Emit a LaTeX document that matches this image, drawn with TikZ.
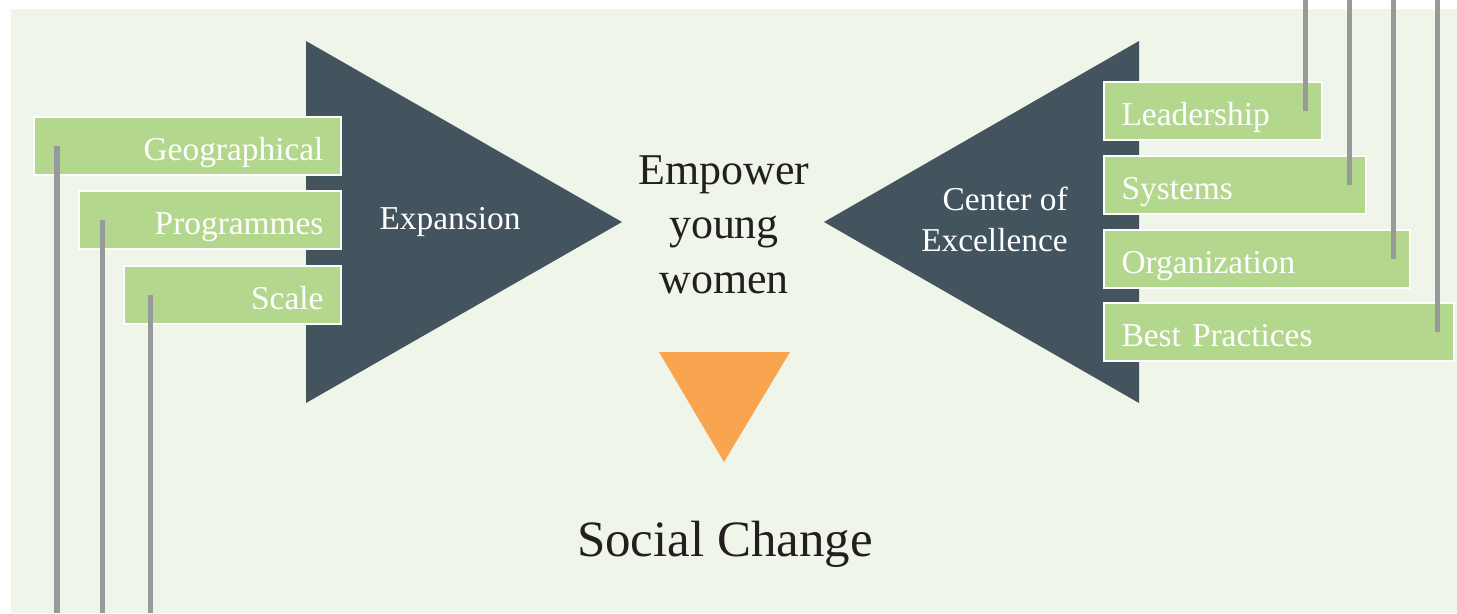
\documentclass[tikz,border=0pt]{standalone}
\usepackage{fontspec}
\setmainfont{Liberation Serif}
\usetikzlibrary{calc}

\definecolor{bgpale}{HTML}{EFF5E8}
\definecolor{slate}{HTML}{44545F}
\definecolor{leaf}{HTML}{B4D78E}
\definecolor{pin}{HTML}{98999B}
\definecolor{sunset}{HTML}{F9A54F}
\definecolor{ink}{HTML}{231F20}

\begin{document}
\begin{tikzpicture}[x=0.02cm, y=-0.02cm,
    box/.style={draw=white, line width=1.2pt, fill=leaf, text=white,
        minimum height=1.16cm, inner xsep=0.35cm, inner ysep=0pt,
        text height=0.56cm, text depth=0pt, font=\fontsize{19}{23}\selectfont},
    leftbox/.style={box, anchor=east, align=right, text width=#1},
    rightbox/.style={box, anchor=west, align=left, text width=#1},
    pinline/.style={draw=pin, line width=2.9pt},
    wedge/.style={fill=slate}]
    \useasboundingbox (0,0) rectangle (1457,613);

    % Background panel
    \fill[bgpale] (11,9) rectangle (1457,613);
    \coordinate (top) at (0,0);
    \coordinate (foot) at (0,613);

    % Wedges
    \fill[wedge] (306,41) -- (622,222) -- (306,403) -- cycle;
    \fill[wedge] (1139,41) -- (824,222) -- (1139,403) -- cycle;
    \fill[sunset] (659,352) -- (790,352) -- (724,462) -- cycle;

    % Left boxes
    \node[leftbox=5.44cm] (geo) at (342,146) {Geographical};
    \node[leftbox=4.54cm] (prog) at (342,220) {Programmes};
    \node[leftbox=3.64cm] (scale) at (342,295) {Scale};

    % Right boxes
    \node[rightbox=3.66cm] (lead) at (1103,111) {Leadership};
    \node[rightbox=4.54cm] (sys) at (1103,185) {Systems};
    \node[rightbox=5.42cm] (org) at (1103,259) {Organization};
    \node[rightbox=6.30cm] (best) at (1103,332) {Best Practices};

    % Pins
    \coordinate (geo-pin) at ($(geo.west)+(24,0)$);
    \coordinate (prog-pin) at ($(prog.west)+(25,0)$);
    \coordinate (scale-pin) at ($(scale.west)+(28,0)$);
    \foreach \n in {geo,prog,scale}
        \draw[pinline] (\n-pin) -- (\n-pin |- foot);
    \foreach \n in {lead,sys,org,best}{
        \coordinate (\n-pin) at ($(\n.east)+(-18,0)$);
        \draw[pinline] (\n-pin) -- (\n-pin |- top);
    }

    % Labels
    \node[anchor=base, text=white, font=\fontsize{19}{23}\selectfont] (expansion) at (450,229) {Expansion};
    \node[anchor=east, align=right, text=white, inner sep=0pt,
          font=\fontsize{19}{23.3}\selectfont] (excellence) at (1068,219) {Center of\\Excellence};
    \node[anchor=north, align=center, text=ink, inner sep=0pt,
          font=\fontsize{25}{31}\selectfont] (empower) at (724,155) {Empower\\young\\women};
    \node[anchor=base, text=ink, font=\fontsize{29}{35}\selectfont] (change) at (725,556) {Social Change};
\end{tikzpicture}
\end{document}
